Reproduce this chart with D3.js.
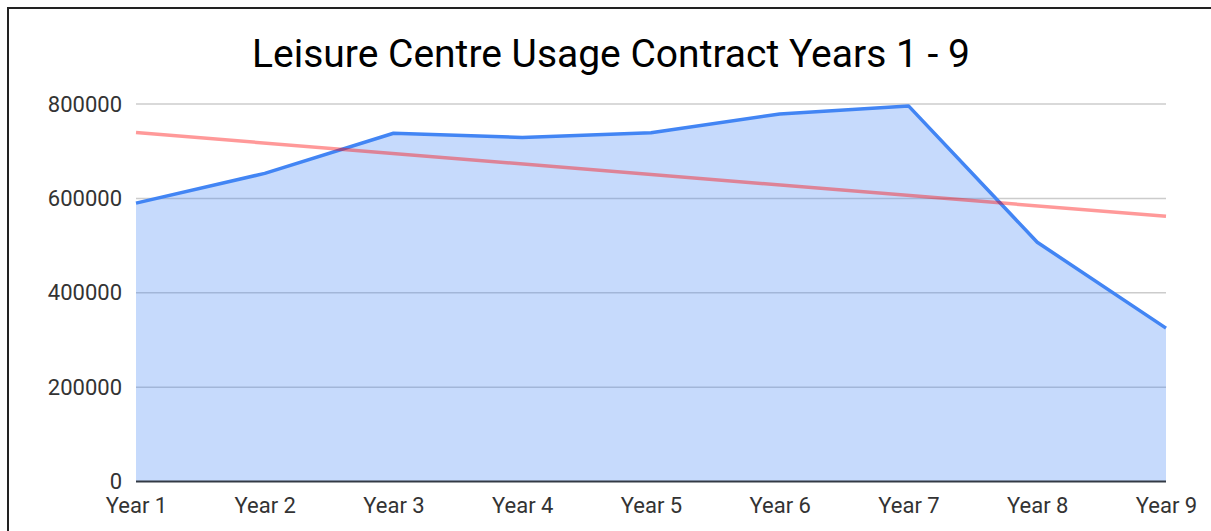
<!DOCTYPE html>
<html>
<head>
<meta charset="utf-8">
<script src="https://cdn.jsdelivr.net/npm/d3@7"></script>
<style>
  html, body { margin: 0; padding: 0; background: #fff; }
  svg { display: block; font-family: Roboto, "Noto Sans", sans-serif; }
</style>
</head>
<body>
<svg id="chart" width="1211" height="531"></svg>
<script>
const categories = ["Year 1", "Year 2", "Year 3", "Year 4", "Year 5", "Year 6", "Year 7", "Year 8", "Year 9"];
const usage = [590000, 653000, 738000, 729000, 739000, 779000, 796000, 507000, 325000];
const yTicks = [0, 200000, 400000, 600000, 800000];
const titleText = "Leisure Centre Usage Contract Years 1 - 9";

const svg = d3.select("#chart");
const W = 1211, H = 531;

// frame (cropped chart border)
svg.append("rect")
  .attr("x", 8).attr("y", 8)
  .attr("width", W + 20).attr("height", H + 20)
  .attr("fill", "#fff").attr("stroke", "#222").attr("stroke-width", 2);

const x = d3.scalePoint().domain(categories).range([136, 1166]);
const y = d3.scaleLinear().domain([0, 800000]).range([481.5, 104]);

// title
svg.append("text")
  .attr("x", 611).attr("y", 67)
  .attr("text-anchor", "middle")
  .attr("font-size", 39)
  .attr("fill", "#000")
  .text(titleText);

// gridlines
svg.append("g").selectAll("line")
  .data(yTicks.filter(d => d > 0))
  .join("line")
  .attr("x1", 136).attr("x2", 1166)
  .attr("y1", d => y(d)).attr("y2", d => y(d))
  .attr("stroke", "#cccccc").attr("stroke-width", 1.5);

// y axis labels
const yAxis = d3.axisLeft(y).tickValues(yTicks).tickSize(0).tickPadding(14).tickFormat(d3.format("d"));
const gy = svg.append("g").attr("transform", "translate(136,0)").call(yAxis);
gy.select(".domain").remove();
gy.selectAll("text").attr("font-size", 22).attr("fill", "#333").attr("font-family", "Roboto, sans-serif");

// area (semi-transparent so gridlines show through)
const area = d3.area()
  .x((d, i) => x(categories[i]))
  .y0(y(0))
  .y1(d => y(d));
svg.append("path").datum(usage)
  .attr("d", area)
  .attr("fill", "#4285f4")
  .attr("fill-opacity", 0.3);

// line
const line = d3.line()
  .x((d, i) => x(categories[i]))
  .y(d => y(d));
svg.append("path").datum(usage)
  .attr("d", line)
  .attr("fill", "none")
  .attr("stroke", "#4285f4")
  .attr("stroke-width", 3.5)
  .attr("stroke-linejoin", "round");

// linear trendline (least squares on the series)
const n = usage.length;
const xs = usage.map((d, i) => i + 1);
const mx = d3.mean(xs), my = d3.mean(usage);
const slope = d3.sum(xs.map((xi, i) => (xi - mx) * (usage[i] - my))) / d3.sum(xs.map(xi => (xi - mx) ** 2));
const intercept = my - slope * mx;
const trend = [1, n].map(k => ({ cat: categories[k - 1], v: intercept + slope * k }));
svg.append("path").datum(trend)
  .attr("d", d3.line().x(d => x(d.cat)).y(d => y(d.v)))
  .attr("fill", "none")
  .attr("stroke", "rgb(255,0,0)")
  .attr("stroke-opacity", 0.4)
  .attr("stroke-width", 3.5);

// baseline
svg.append("line")
  .attr("x1", 136).attr("x2", 1166)
  .attr("y1", y(0)).attr("y2", y(0))
  .attr("stroke", "#333a45").attr("stroke-width", 2);

// x axis labels
const xAxis = d3.axisBottom(x).tickSize(0).tickPadding(16);
const gx = svg.append("g").attr("transform", `translate(0,${y(0)})`).call(xAxis);
gx.select(".domain").remove();
gx.selectAll("text").attr("font-size", 22).attr("fill", "#333").attr("font-family", "Roboto, sans-serif");
</script>
</body>
</html>
